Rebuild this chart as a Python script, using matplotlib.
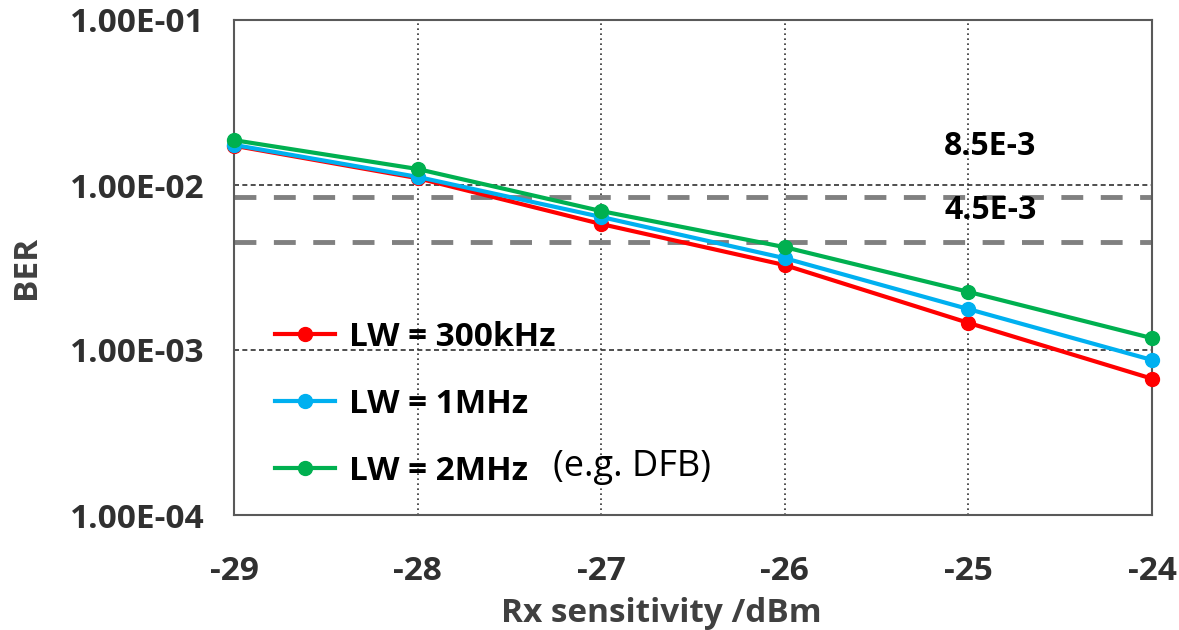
import matplotlib
matplotlib.use("Agg")
import matplotlib.pyplot as plt
from matplotlib.ticker import FixedLocator, NullLocator

rx_dbm = [-29, -28, -27, -26, -25, -24]
ber_300k = [1.73e-2, 1.10e-2, 5.8e-3, 3.27e-3, 1.46e-3, 6.7e-4]
ber_1m = [1.75e-2, 1.12e-2, 6.4e-3, 3.6e-3, 1.77e-3, 8.7e-4]
ber_2m = [1.87e-2, 1.25e-2, 6.95e-3, 4.2e-3, 2.25e-3, 1.18e-3]
labels = ['LW = 300kHz', 'LW = 1MHz', 'LW = 2MHz']
colors = ['#FF0000', '#00B0F0', '#00B050']
thresholds = [8.5e-3, 4.5e-3]
threshold_labels = ['8.5E-3', '4.5E-3']
ytick_vals = [1e-4, 1e-3, 1e-2, 1e-1]
ytick_labels = ['1.00E-04', '1.00E-03', '1.00E-02', '1.00E-01']

plt.rcParams['font.family'] = ['Open Sans', 'DejaVu Sans']

fig = plt.figure(figsize=(11.79, 6.30), dpi=100)
ax = fig.add_axes([234/1179, 1 - 515/630, (1152-234)/1179, (515-20)/630])

ax.set_yscale('log')
ax.set_xlim(-29, -24)
ax.set_ylim(1e-4, 1e-1)

# threshold lines
for t in thresholds:
    ax.axhline(t, color='#808080', lw=3.5, dashes=(4.5, 3.6), zorder=2)

for vals, lab, col in zip([ber_300k, ber_1m, ber_2m], labels, colors):
    ax.plot(rx_dbm, vals, '-o', color=col, lw=3, ms=10, label=lab,
            zorder=4, clip_on=False)

ax.yaxis.set_major_locator(FixedLocator(ytick_vals))
ax.yaxis.set_minor_locator(NullLocator())
ax.set_yticks(ytick_vals)
ax.set_yticklabels(ytick_labels)
ax.set_xticks(rx_dbm)
ax.set_xticklabels([str(v) for v in rx_dbm])

ax.xaxis.grid(True, color='#303030', linestyle=(0, (1, 2)), lw=1.2)
ax.yaxis.grid(True, color='#303030', linestyle=(0, (3, 2)), lw=1.2)
ax.set_axisbelow(True)

for s in ax.spines.values():
    s.set_color('#595959')
    s.set_linewidth(1.5)

ax.tick_params(axis='both', length=0, labelsize=24, colors='#303030')
ax.tick_params(axis='y', pad=21)
ax.tick_params(axis='x', pad=29)
for lbl in ax.get_xticklabels() + ax.get_yticklabels():
    lbl.set_fontweight('bold')

ax.set_xlabel('Rx sensitivity /dBm', fontsize=24, fontweight='bold',
              color='#404040')
ax.xaxis.label.set_va('center')
ax.xaxis.set_label_coords(0.466, -0.198)
ax.set_ylabel('BER', fontsize=24, fontweight='bold', color='#404040')
ax.yaxis.label.set_va('center')
ax.yaxis.set_label_coords(-0.2255, 0.5)

leg = ax.legend(loc='upper left', bbox_to_anchor=(0.045, 0.392), frameon=False,
                prop={'size': 24, 'weight': 'bold'}, handlelength=1.8,
                handletextpad=0.4, labelspacing=1.02, borderaxespad=0,
                borderpad=0)

ax.text(0.3475, 0.097, '(e.g. DFB)', transform=ax.transAxes, fontsize=26,
        va='center', ha='left', color='black')

ax.text(-24.88, 1.70e-2, threshold_labels[0], fontsize=23, fontweight='bold',
        ha='center', va='center')
ax.text(-24.88, 7.05e-3, threshold_labels[1], fontsize=23, fontweight='bold',
        ha='center', va='center')

fig.savefig('out.png', dpi=100)
